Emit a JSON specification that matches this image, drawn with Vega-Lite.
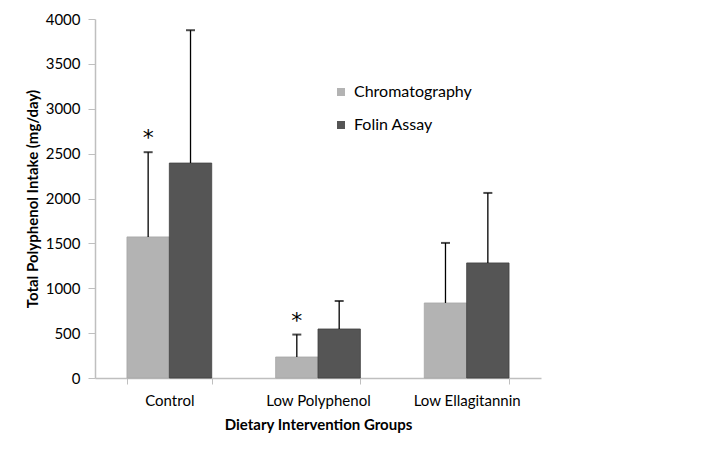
{
  "$schema": "https://vega.github.io/schema/vega-lite/v6.json",
  "width": 446,
  "height": 359,
  "autosize": {"type": "none"},
  "padding": {"left": 95, "top": 19, "right": 170, "bottom": 77},
  "background": "white",
  "config": {
    "view": {"stroke": null},
    "font": "Lato",
    "axis": {"domainColor": "#bfbfbf", "tickColor": "#bfbfbf", "labelColor": "#000", "titleColor": "#000", "labelFont": "Lato", "titleFont": "Lato", "labelFontSize": 15, "titleFontSize": 15, "grid": false}
  },
  "data": {
    "values": [
      {"group": "Control", "method": "Chromatography", "value": 1572, "upper": 2516, "sig": "*"},
      {"group": "Control", "method": "Folin Assay", "value": 2395, "upper": 3875, "sig": ""},
      {"group": "Low Polyphenol", "method": "Chromatography", "value": 234, "upper": 484, "sig": "*"},
      {"group": "Low Polyphenol", "method": "Folin Assay", "value": 546, "upper": 858, "sig": ""},
      {"group": "Low Ellagitannin", "method": "Chromatography", "value": 836, "upper": 1505, "sig": ""},
      {"group": "Low Ellagitannin", "method": "Folin Assay", "value": 1282, "upper": 2062, "sig": ""}
    ]
  },
  "encoding": {
    "x": {
      "field": "group", "type": "nominal",
      "sort": ["Control", "Low Polyphenol", "Low Ellagitannin"],
      "scale": {"paddingInner": 0.43, "paddingOuter": 0.215},
      "axis": {"title": "Dietary Intervention Groups", "labelAngle": 0, "tickBand": "extent", "tickSize": 6, "labelPadding": 9, "titlePadding": 9, "titleFontWeight": "bold", "domainWidth": 1.5}
    },
    "xOffset": {"field": "method", "type": "nominal", "sort": ["Chromatography", "Folin Assay"]},
    "y": {
      "field": "value", "type": "quantitative",
      "scale": {"domain": [0, 4000], "nice": false},
      "axis": {"title": "Total Polyphenol Intake (mg/day)", "format": "d", "values": [0, 500, 1000, 1500, 2000, 2500, 3000, 3500, 4000], "tickSize": 7, "labelPadding": 8, "titlePadding": 5, "titleFontWeight": "bold", "domainWidth": 1.5}
    }
  },
  "layer": [
    {
      "mark": {"type": "bar", "strokeWidth": 0.8},
      "encoding": {
        "color": {
          "field": "method", "type": "nominal",
          "scale": {"domain": ["Chromatography", "Folin Assay"], "range": ["#b3b3b3", "#555555"]},
          "legend": {"title": null, "orient": "none", "legendX": 238, "legendY": 65, "symbolType": "square", "symbolSize": 64, "symbolStrokeWidth": 0, "labelFont": "Lato", "labelFontSize": 16, "labelColor": "#000", "rowPadding": 17, "labelOffset": 5}
        },
        "stroke": {
          "field": "method", "type": "nominal",
          "scale": {"domain": ["Chromatography", "Folin Assay"], "range": ["#a6a6a6", "#404040"]},
          "legend": null
        }
      }
    },
    {
      "mark": {"type": "rule", "color": "#000", "strokeWidth": 1.3},
      "encoding": {"y2": {"field": "upper"}}
    },
    {
      "mark": {"type": "tick", "color": "#000", "size": 9, "thickness": 2},
      "encoding": {"y": {"field": "upper", "type": "quantitative"}}
    },
    {
      "mark": {"type": "text", "fontSize": 22, "font": "DejaVu Sans", "fill": "#000", "baseline": "bottom", "dy": -2},
      "encoding": {"y": {"field": "upper", "type": "quantitative"}, "text": {"field": "sig"}}
    }
  ]
}
